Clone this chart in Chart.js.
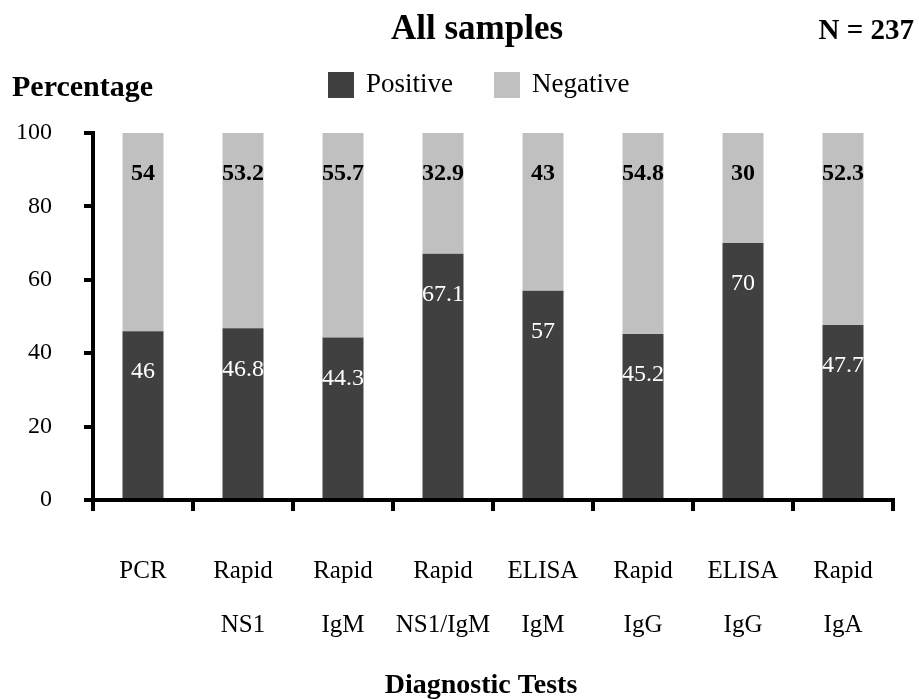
<!DOCTYPE html>
<html>
<head>
<meta charset="utf-8">
<title>All samples</title>
<style>
  html, body { margin: 0; padding: 0; background: #ffffff; }
  #wrap { width: 919px; height: 699px; position: relative; }
  canvas { display: block; }
</style>
<script src="https://cdn.jsdelivr.net/npm/chart.js@4.4.1/dist/chart.umd.min.js"></script>
</head>
<body>
<div id="wrap"><canvas id="chart" width="919" height="699"></canvas></div>
<script>
// Diagnostic tests (two-line labels) and their positive / negative percentages
const categories = [
  ['PCR'],
  ['Rapid', 'NS1'],
  ['Rapid', 'IgM'],
  ['Rapid', 'NS1/IgM'],
  ['ELISA', 'IgM'],
  ['Rapid', 'IgG'],
  ['ELISA', 'IgG'],
  ['Rapid', 'IgA']
];
const positive = [46, 46.8, 44.3, 67.1, 57, 45.2, 70, 47.7];
const negative = [54, 53.2, 55.7, 32.9, 43, 54.8, 30, 52.3];
const yTicks = [0, 20, 40, 60, 80, 100];
const seriesNames = ['Positive', 'Negative'];
const chartTitle = 'All samples';
const sampleNote = 'N = 237';
const yTitle = 'Percentage';
const xTitle = 'Diagnostic Tests';

const SERIF = '"Liberation Serif", "Times New Roman", Times, serif';
const DARK = '#404040';
const LIGHT = '#c0c0c0';

// Value labels placed inside each stacked segment, just below its top edge
const segmentLabels = {
  id: 'segmentLabels',
  afterDatasetsDraw(chart) {
    const ctx = chart.ctx;
    ctx.save();
    ctx.textAlign = 'center';
    ctx.textBaseline = 'middle';
    chart.data.datasets.forEach((ds, di) => {
      const meta = chart.getDatasetMeta(di);
      ctx.font = (di === 0 ? 'normal ' : 'bold ') + '24px ' + SERIF;
      ctx.fillStyle = di === 0 ? '#ffffff' : '#000000';
      meta.data.forEach((el, i) => {
        ctx.fillText(String(ds.data[i]), el.x, el.y + 41);
      });
    });
    ctx.restore();
  }
};

// Title, sample size, axis titles and legend drawn around the plot
const decorations = {
  id: 'decorations',
  afterDraw(chart) {
    const ctx = chart.ctx;
    const area = chart.chartArea;
    ctx.save();
    ctx.fillStyle = '#000000';
    ctx.textBaseline = 'alphabetic';

    ctx.font = 'bold 35px ' + SERIF;
    ctx.textAlign = 'center';
    ctx.fillText(chartTitle, 477, 39);

    ctx.font = 'bold 29px ' + SERIF;
    ctx.textAlign = 'right';
    ctx.fillText(sampleNote, 914, 39);

    ctx.font = 'bold 30px ' + SERIF;
    ctx.textAlign = 'left';
    ctx.fillText(yTitle, 12, 96);

    ctx.font = 'bold 28px ' + SERIF;
    ctx.textAlign = 'center';
    ctx.fillText(xTitle, (area.left + area.right) / 2 - 12, 693);

    // legend
    const legendX = [328, 494];
    ctx.font = '27px ' + SERIF;
    ctx.textAlign = 'left';
    ctx.textBaseline = 'alphabetic';
    chart.data.datasets.forEach((ds, di) => {
      ctx.fillStyle = ds.backgroundColor;
      ctx.fillRect(legendX[di], 72, 26, 26);
      ctx.fillStyle = '#000000';
      ctx.fillText(ds.label, legendX[di] + 38, 92);
    });
    ctx.restore();
  }
};

new Chart(document.getElementById('chart'), {
  type: 'bar',
  data: {
    labels: categories,
    datasets: [
      { label: seriesNames[0], data: positive, backgroundColor: DARK, borderWidth: 0 },
      { label: seriesNames[1], data: negative, backgroundColor: LIGHT, borderWidth: 0 }
    ]
  },
  options: {
    responsive: false,
    animation: false,
    devicePixelRatio: 1,
    layout: { padding: { top: 133, right: 26, bottom: 0, left: 0 } },
    plugins: {
      legend: { display: false },
      title: { display: false },
      tooltip: { enabled: false }
    },
    datasets: {
      bar: { categoryPercentage: 1.0, barPercentage: 0.41 }
    },
    scales: {
      x: {
        stacked: true,
        offset: true,
        afterFit(scale) { scale.height = 199; },
        grid: {
          offset: true,
          drawOnChartArea: false,
          drawTicks: true,
          tickLength: 11,
          lineWidth: 4,
          color: '#000000'
        },
        border: { display: true, width: 4, color: '#000000' },
        ticks: {
          color: '#000000',
          font: { family: SERIF, size: 25, lineHeight: 2.16 },
          padding: 33,
          maxRotation: 0,
          autoSkip: false
        }
      },
      y: {
        stacked: true,
        min: yTicks[0],
        max: yTicks[yTicks.length - 1],
        afterFit(scale) { scale.width = 93; },
        afterBuildTicks(scale) { scale.ticks = yTicks.map(v => ({ value: v })); },
        grid: {
          drawOnChartArea: false,
          drawTicks: true,
          tickLength: 9,
          lineWidth: 4,
          color: '#000000'
        },
        border: { display: true, width: 4, color: '#000000' },
        ticks: {
          color: '#000000',
          font: { family: SERIF, size: 24 },
          padding: 32
        }
      }
    }
  },
  plugins: [segmentLabels, decorations]
});
</script>
</body>
</html>
